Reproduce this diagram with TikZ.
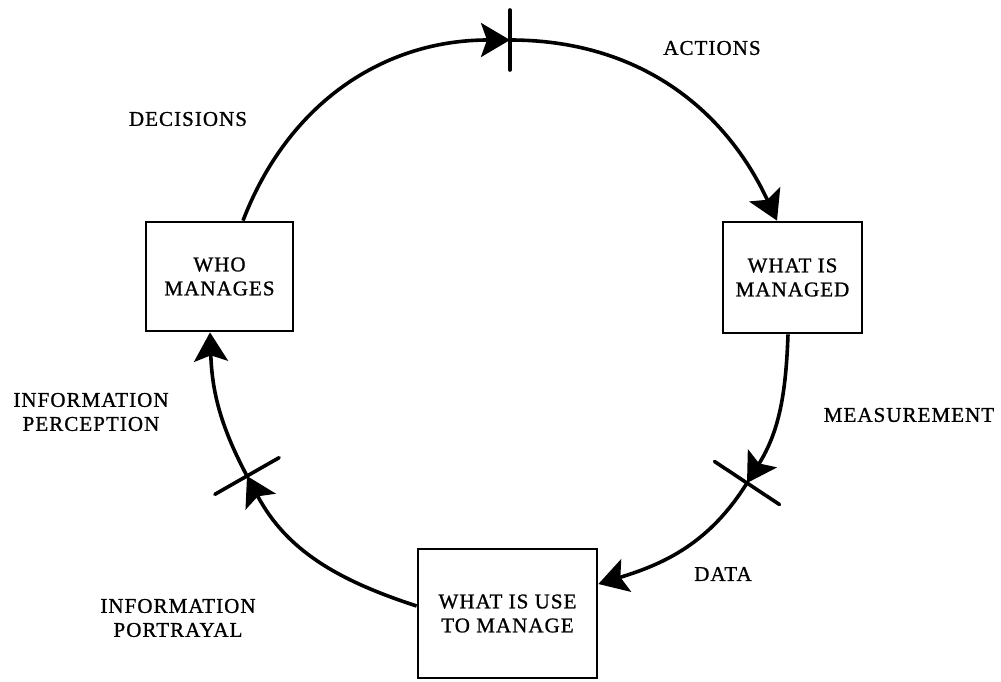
\documentclass[tikz,border=0pt]{standalone}
\usepackage{fontspec}
\setmainfont{Liberation Serif}[LetterSpace=5, FakeBold=1]
\usetikzlibrary{arrows.meta,calc}
\begin{document}
\begin{tikzpicture}[x=1pt,y=1pt,
  every node/.style={font=\fontsize{21}{24}\selectfont},
  box/.style={draw, line width=2.7pt, align=center, inner sep=0pt},
  lbl/.style={align=center, inner sep=0pt},
  flow/.style={line width=3.6pt, -{Stealth[length=29pt,width=34pt,inset=6pt]}},
  tickmark/.style={line width=3.6pt, line cap=round}]
\useasboundingbox (0,0) rectangle (1001,681);

% the three stages of the management cycle
\node[box, minimum width=147pt, minimum height=109pt] (who) at (219.5,404.5) {WHO\\MANAGES};
\node[box, minimum width=139pt, minimum height=111pt] (managed) at (792.5,403.5) {WHAT IS\\MANAGED};
\node[box, minimum width=179pt, minimum height=129pt] (use) at (507.5,67.5) {WHAT IS USE\\TO MANAGE};

% flow labels
\node[lbl] (decisions) at (188,562) {DECISIONS};
\node[lbl] (actions) at (712,633) {ACTIONS};
\node[lbl] (measure) at (909,266) {MEASUREMENT};
\node[lbl] (percep) at (91,269) {INFORMATION\\PERCEPTION};
\node[lbl] (portray) at (178,63) {INFORMATION\\PORTRAYAL};
\node[lbl] (data) at (723,107) {DATA};

% centre of the cycle and the three transition marks on it
\coordinate (ctr) at (510,355);
\coordinate (t1) at (510,641);
\coordinate (t2) at (747,198);
\coordinate (t3) at (247,205);

% the cycle
\draw[flow] ([xshift=23.5pt]who.north) to[out=69,in=180] (t1);
\draw[flow] (t1) to[out=0,in=115] ([xshift=-15.5pt]managed.north);
\draw[flow] ([xshift=-4.5pt]managed.south) to[out=-92,in=58] (t2);
\draw[flow] (t2) to[out=-122,in=17] ([yshift=29.5pt]use.east);
\draw[flow] ([yshift=7.5pt]use.west) to[out=162,in=-62] (t3);
\draw[flow] (t3) to[out=118,in=-88] ([xshift=-9.5pt]who.south);

% radial bars marking the transitions
\draw[tickmark] ($(t1)!30pt!(ctr)$) -- ($(t1)!-30pt!(ctr)$);
\draw[tickmark] ($(t2)!39pt!(ctr)$) -- ($(t2)!-39pt!(ctr)$);
\draw[tickmark] ($(t3)!37pt!(ctr)$) -- ($(t3)!-37pt!(ctr)$);
\end{tikzpicture}
\end{document}
